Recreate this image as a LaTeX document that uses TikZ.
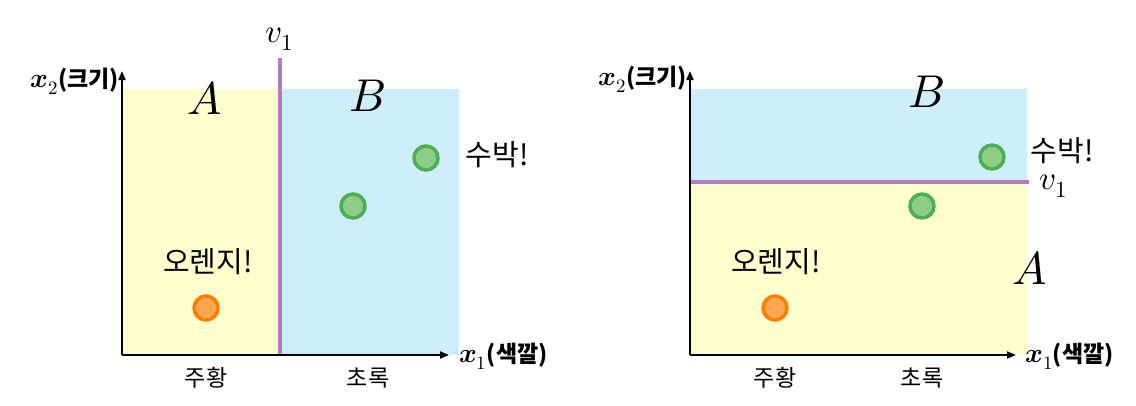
\documentclass[tikz,border=0pt]{standalone}
\usepackage{fontspec}
\usepackage{unicode-math}
\setmathfont{Latin Modern Math}
\usetikzlibrary{arrows.meta}
\newfontfamily\kr{Noto Sans CJK KR}
\newcommand{\axisvar}[1]{{\fontsize{27}{28}\selectfont$\symbfit{x}_{#1}$}}
\definecolor{yellowbg}{RGB}{255,255,206}
\definecolor{bluebg}{RGB}{207,238,251}
\definecolor{splitline}{RGB}{180,124,192}
\definecolor{melonline}{RGB}{76,175,80}
\definecolor{melonfill}{RGB}{142,204,136}
\definecolor{orangeline}{RGB}{255,127,0}
\definecolor{orangefill}{RGB}{255,166,82}
\begin{document}
\begin{tikzpicture}[x=1pt,
y=-1pt,
every node/.style={
inner sep=0pt,
font=\kr,
},
axis/.style={
line width=2pt,
-{Triangle[length=9pt,width=7pt]},
},
axislabel/.style={
font=\kr\bfseries\fontsize{23}{26}\selectfont,
},
split/.style={
draw=splitline,
line width=3.5pt,
},
melon/.style={
circle,
minimum size=24pt,
line width=3.5pt,
draw=melonline,
fill=melonfill,
},
orange/.style={
circle,
minimum size=24pt,
line width=3.5pt,
draw=orangeline,
fill=orangefill,
},
fruitname/.style={
font=\kr\fontsize{29}{32}\selectfont,
},
tick/.style={
font=\kr\fontsize{23}{26}\selectfont,
},
regionname/.style={
font=\fontsize{46}{50}\selectfont,
},
vecname/.style={
font=\fontsize{33}{36}\selectfont,
anchor=base west,
}]
\useasboundingbox (0,0) rectangle (1136,405);

%left panel: vertical split
\fill[yellowbg] (122,89) rectangle (280,355);
\fill[bluebg] (280,89) rectangle (459,355);
\coordinate (vtop) at (280,58);
\coordinate (vbot) at (280,355);
\draw[split] (vtop) -- (vbot);
\node[vecname] (vname) at (265,42) {$v_1$};

\coordinate (O1) at (122,355);
\coordinate (Y1) at (122,71);
\coordinate (X1) at (449,355);
\draw[axis] (O1) -- (Y1);
\draw[axis] (O1) -- (X1);
\node[axislabel,anchor=east] (ylab1) at (119,81) {\axisvar{2}(크기)};
\node[axislabel,anchor=west] (xlab1) at (459,356) {\axisvar{1}(색깔)};

\node[regionname] (A1) at (205,98) {$A$};
\node[regionname] (B1) at (368,96) {$B$};

\node[melon] (m1) at (426,158) {};
\node[melon] (m2) at (353,206) {};
\node[fruitname] (mname1) at (497,155) {수박!};
\node[orange] (o1) at (206,308) {};
\node[fruitname] (oname1) at (208,262) {오렌지!};

\node[tick] (t1) at (206,378) {주황};
\node[tick] (t2) at (368,378) {초록};

%right panel: horizontal split
\fill[bluebg] (690,89) rectangle (1027,182);
\fill[yellowbg] (690,182) rectangle (1027,355);
\coordinate (hleft) at (690,182);
\coordinate (hright) at (1029,182);
\draw[split] (hleft) -- (hright);
\node[vecname] (hname) at (1039,189) {$v_1$};

\coordinate (O2) at (690,355);
\coordinate (Y2) at (690,71);
\coordinate (X2) at (1016,355);
\draw[axis] (O2) -- (Y2);
\draw[axis] (O2) -- (X2);
\node[axislabel,anchor=east] (ylab2) at (687,79) {\axisvar{2}(크기)};
\node[axislabel,anchor=west] (xlab2) at (1025,356) {\axisvar{1}(색깔)};

\node[regionname] (B2) at (927,92) {$B$};
\node[regionname] (A2) at (1030,268) {$A$};

\node[melon] (m3) at (992,157) {};
\node[melon] (m4) at (922,206) {};
\node[fruitname] (mname2) at (1062,151) {수박!};
\node[orange] (o2) at (775,308) {};
\node[fruitname] (oname2) at (776,262) {오렌지!};

\node[tick] (t3) at (775,378) {주황};
\node[tick] (t4) at (922,378) {초록};
\end{tikzpicture}
\end{document}
